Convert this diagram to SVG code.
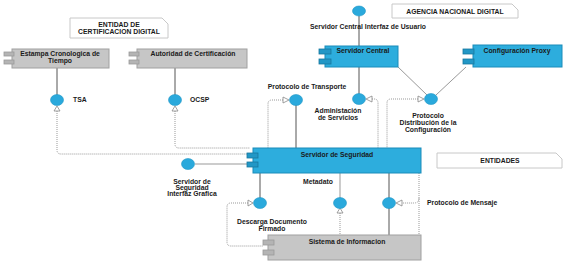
<svg xmlns="http://www.w3.org/2000/svg" width="569" height="266" viewBox="0 0 569 266">
<defs>
<style>
text{font-family:"Liberation Sans",Arial,sans-serif;font-weight:bold;font-size:6.8px;fill:#1a1a1a;text-anchor:middle}
.lt{text-anchor:start}
.note{fill:#fff;stroke:#c8c8c8;stroke-width:1}
.gbox{fill:#c6c6c6;stroke:#a0a0a0;stroke-width:1}
.gtab{fill:#b4b4b4;stroke:#999;stroke-width:0.8}
.bbox{fill:#2daddd;stroke:#1a8cba;stroke-width:1}
.btab{fill:#2297c6;stroke:#17789f;stroke-width:0.8}
.ifc{fill:#2aa9dc;stroke:#2297c6;stroke-width:0.6}
.ln{stroke:#555;stroke-width:1;fill:none}
.lnl{stroke:#999;stroke-width:1;fill:none}
.dot{stroke:#999;stroke-width:1;stroke-dasharray:1 1;fill:none}
.arr{fill:#fff;stroke:#888;stroke-width:0.8}
</style>
</defs>

<g id="connectors">
<!-- TSA -->
<line class="ln" x1="57" y1="68" x2="57" y2="95"/>
<path class="dot" d="M57,111 V150 Q57,154 61,154 H247"/>
<polygon class="arr" points="57,106 54,111 60,111"/>
<!-- OCSP -->
<line class="ln" x1="175" y1="68" x2="175" y2="95"/>
<path class="dot" d="M175,111 V144 Q175,148 179,148 H250"/>
<polygon class="arr" points="175,106 172,111 178,111"/>
<!-- Interfaz grafica -->
<line class="lnl" x1="195" y1="164" x2="247" y2="164"/>
<!-- Servidor Central interfaz usuario -->
<line class="ln" x1="359" y1="16" x2="359" y2="46"/>
<!-- Protocolo de Transporte -->
<line class="ln" x1="296" y1="105" x2="296" y2="148"/>
<path class="dot" d="M283,100 H272 Q268,100 268,104 V148"/>
<polygon class="arr" points="289,100 283,97 283,103"/>
<!-- Administacion -->
<line class="ln" x1="359" y1="67" x2="359" y2="94"/>
<path class="dot" d="M372,99 H374 Q378,99 378,103 V148"/>
<polygon class="arr" points="366,99 372,96 372,102"/>
<!-- Protocolo Distribucion -->
<line class="lnl" x1="397" y1="66" x2="427" y2="95"/>
<line class="lnl" x1="466" y1="67" x2="436" y2="95"/>
<path class="dot" d="M418,99 H391 Q387,99 387,103 V148"/>
<polygon class="arr" points="424,99 418,96 418,102"/>
<!-- Descarga Documento Firmado -->
<line class="ln" x1="260" y1="173" x2="260" y2="198"/>
<path class="dot" d="M248,203 H231 Q227,203 227,207 V242 Q227,246 231,246 H263"/>
<polygon class="arr" points="253,203 248,200 248,206"/>
<!-- Metadato -->
<line class="lnl" x1="340" y1="173" x2="340" y2="198"/>
<path class="dot" d="M340,213 V235"/>
<polygon class="arr" points="340,208 337,213 343,213"/>
<!-- Protocolo de Mensaje -->
<line class="ln" x1="389" y1="173" x2="389" y2="235"/>
<path class="dot" d="M419,173 V235"/>
<path class="dot" d="M419,198 Q419,203 414,203 H402"/>
<polygon class="arr" points="396,203 402,200 402,206"/>
</g>

<g id="note-entidad">
<path class="note" d="M70,18 H162 L168,24 V38 H70 Z"/>
<text x="119" y="27">ENTIDAD DE</text>
<text x="119" y="34">CERTIFICACION DIGITAL</text>
</g>

<g id="note-agencia">
<path class="note" d="M392,4 H512 L518,10 V18 H392 Z"/>
<text x="455" y="14">AGENCIA NACIONAL DIGITAL</text>
</g>

<g id="note-entidades">
<path class="note" d="M437,153 H556 L562,159 V168 H437 Z"/>
<text x="500" y="163">ENTIDADES</text>
</g>

<g id="estampa">
<rect class="gbox" x="12" y="49" width="97" height="19"/>
<rect class="gtab" x="4" y="52" width="10" height="4"/>
<rect class="gtab" x="4" y="60" width="10" height="4"/>
<text x="60" y="56">Estampa Cronologica de</text>
<text x="60" y="63">Tiempo</text>
</g>

<g id="autoridad">
<rect class="gbox" x="137" y="49" width="110" height="19"/>
<rect class="gtab" x="129" y="52" width="10" height="4"/>
<rect class="gtab" x="129" y="60" width="10" height="4"/>
<text x="193" y="56">Autoridad de Certificación</text>
</g>

<g id="tsa">
<ellipse class="ifc" cx="57" cy="100" rx="6.5" ry="5.5"/>
<text class="lt" x="73" y="102">TSA</text>
</g>

<g id="ocsp">
<ellipse class="ifc" cx="175" cy="100" rx="6.5" ry="5.5"/>
<text class="lt" x="190" y="102">OCSP</text>
</g>

<g id="servidor-central-ui">
<ellipse class="ifc" cx="359" cy="11" rx="6.5" ry="5"/>
<text x="368" y="29">Servidor Central Interfaz de Usuario</text>
</g>

<g id="servidor-central">
<rect class="bbox" x="325" y="46" width="73" height="21"/>
<rect class="btab" x="319" y="49" width="12" height="5"/>
<rect class="btab" x="319" y="59" width="12" height="5"/>
<text x="363" y="53">Servidor Central</text>
</g>

<g id="config-proxy">
<rect class="bbox" x="473" y="45" width="89" height="22"/>
<rect class="btab" x="463" y="49" width="11" height="5"/>
<rect class="btab" x="463" y="59" width="11" height="5"/>
<text x="517" y="53">Configuración Proxy</text>
</g>

<g id="protocolo-transporte">
<ellipse class="ifc" cx="296" cy="100" rx="6.5" ry="5.5"/>
<text x="307" y="89">Protocolo de Transporte</text>
</g>

<g id="administacion">
<ellipse class="ifc" cx="359" cy="99" rx="6.5" ry="5.5"/>
<text x="338" y="113">Administación</text>
<text x="338" y="120">de Servicios</text>
</g>

<g id="protocolo-distribucion">
<ellipse class="ifc" cx="431" cy="99" rx="6.5" ry="5.5"/>
<text x="428" y="118">Protocolo</text>
<text x="428" y="125">Distribución de la</text>
<text x="428" y="132">Configuración</text>
</g>

<g id="servidor-seguridad">
<rect class="bbox" x="253" y="148" width="168" height="25"/>
<rect class="btab" x="247" y="153" width="11" height="5"/>
<rect class="btab" x="247" y="162" width="11" height="5"/>
<text x="337" y="157">Servidor de Seguridad</text>
</g>

<g id="interfaz-grafica">
<ellipse class="ifc" cx="188" cy="164" rx="6.5" ry="5.5"/>
<text x="192" y="184">Servidor de</text>
<text x="192" y="190">Seguridad</text>
<text x="192" y="196">Interfaz Grafica</text>
</g>

<g id="descarga">
<ellipse class="ifc" cx="260" cy="203" rx="6.5" ry="5.5"/>
<text x="272" y="224">Descarga Documento</text>
<text x="272" y="231">Firmado</text>
</g>

<g id="metadato">
<ellipse class="ifc" cx="340" cy="203" rx="6.5" ry="5.5"/>
<text x="318" y="184">Metadato</text>
</g>

<g id="protocolo-mensaje">
<ellipse class="ifc" cx="389" cy="203" rx="6.5" ry="5.5"/>
<text class="lt" x="427" y="205">Protocolo de Mensaje</text>
</g>

<g id="sistema-informacion">
<rect class="gbox" x="268" y="235" width="153" height="25"/>
<rect class="gtab" x="263" y="240" width="11" height="5"/>
<rect class="gtab" x="263" y="250" width="11" height="5"/>
<text x="347" y="244">Sistema de Informacion</text>
</g>
</svg>
